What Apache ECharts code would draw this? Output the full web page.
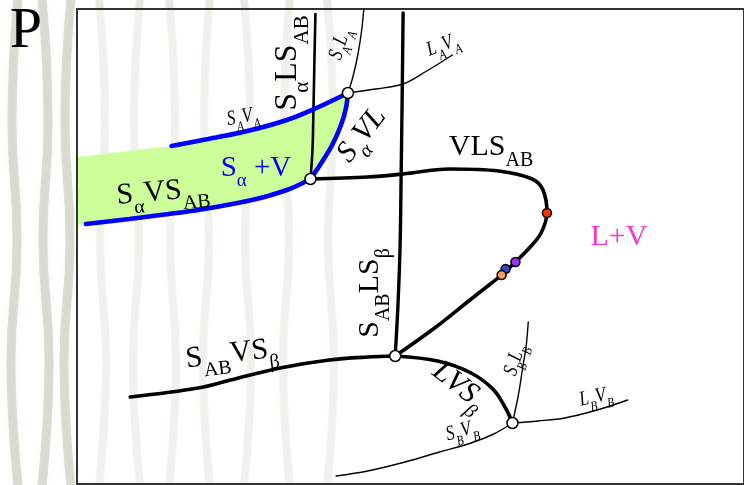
<!DOCTYPE html>
<html>
<head>
<meta charset="utf-8">
<script src="https://cdn.jsdelivr.net/npm/echarts@6/dist/echarts.min.js"></script>
<style>
  html, body { margin: 0; padding: 0; background: #ffffff; }
  #chart { width: 744px; height: 485px; }
</style>
</head>
<body>
<div id="chart"></div>
<script>
// P–T projection of the A–B system: univariant curves and invariant points.
// Units: x grows with T, y is drawn with P increasing upward (axis inverted).

// thick univariant curves
const curveSaLSab = [[319,14],[318,60],[317,110],[316,150],[314,179]];
const curveVLSab  = [[314,179],[372,177],[408,174],[455,169],[505,171],[539,179],[550,190],[554,213],
                     [548,233],[537,247],[522,262],[508,275],[490,289],[472,303],[440,328],[400,356]];
const curveSabLSb = [[408,13],[407,100],[406,175],[405,243],[403,300],[400,356]];
const curveSabVSb = [[131,397],[200,388],[233,380],[283,368],[333,360],[372,357],[400,356]];
const curveLVSb   = [[400,356],[443,361],[477,373],[500,390],[513,410],[519,423]];

// thin curves of the pure components
const curveSALA = [[352,93],[357,77],[362,55],[366,30],[368,10]];
const curveLAVA = [[352,93],[380,89],[408,84],[432,71],[458,55]];
const curveSBLB = [[519,423],[525,395],[529,370],[533,345],[535,322]];
const curveLBVB = [[519,423],[545,421],[572,418],[605,410],[636,400]];
const curveSBVB = [[340,476],[372,471],[410,462],[445,452],[477,443],[500,434],[519,423]];

// S_alpha + V field boundaries
const bandUpper = [[173,146],[210,139],[250,131],[290,120],[320,108],[352,93]];
const bandRight = [[352,93],[350,108],[345,125],[336,145],[325,163],[314,179]];
const bandLower = [[86,224],[130,219],[170,214],[200,210],[240,203],[267,197],[290,190],[300,186],[314,179]];
const bandLeftTop = [78,157];
const bandLeftBottom = [78,225];

// invariant points and marked states on the L+V curve
const invariantPoints = [[352,93],[314,179],[400,356],[519,423]];
const statePoints = [[554,213],[522,262],[512,269],[508,275]];
const stateColors = ['#ff3300','#9933ff','#3344cc','#ff9955'];

const fieldPolygon = [bandLeftTop]
  .concat(bandUpper, bandRight.slice(1), bandLower.slice().reverse().slice(1), [bandLeftBottom]);

const chart = echarts.init(document.getElementById('chart'), null, { renderer: 'canvas' });

function curve(data, width, color, z) {
  return {
    type: 'line', data: data, smooth: 0.35, symbol: 'none', z: z || 3,
    lineStyle: { width: width, color: color, cap: 'round' }, silent: true, animation: false
  };
}

const SERIF = 'Liberation Serif';

function label(text, x, y, rotDeg, size, opts) {
  opts = opts || {};
  const subSize = opts.sub || Math.round(size * 0.66);
  const shift = opts.shift != null ? opts.shift : size * 0.45;
  const fstyle = opts.italic ? 'italic ' : '';
  return {
    type: 'text', x: x, y: y, rotation: rotDeg * Math.PI / 180,
    scaleX: opts.sx || 1, z: 100, silent: true,
    style: {
      text: text, fill: opts.color || '#000',
      font: fstyle + size + 'px "' + SERIF + '"',
      align: 'center', verticalAlign: 'middle',
      textAlign: 'center', textVerticalAlign: 'middle',
      lineHeight: size * 1.1,
      rich: {
        s: { font: fstyle + subSize + 'px "' + SERIF + '"',
             fill: opts.color || '#000', padding: [shift * 2, 0, 0, 0] }
      }
    }
  };
}

// soft vertical streaks of the slide background on the left side
const streakBase = [15, 45, 68, 102, 137, 172, 207, 247, 287, 330];
const lean = [-3, 3, -2, 4, -3];
const streaks = streakBase.map(function (x0, i) {
  const pts = lean.map(function (d, k) {
    return [x0 + (i % 2 ? d : -d), k * 122 - 2];
  });
  const outside = x0 < 77;
  return {
    type: 'polyline', z: -10, silent: true,
    shape: { points: pts, smooth: 0.5 },
    style: { stroke: outside ? 'rgba(160,160,140,0.32)' : 'rgba(160,160,140,0.2)',
             lineWidth: outside ? 9 : 8, fill: null,
             shadowBlur: 4, shadowColor: 'rgba(160,160,140,0.3)' }
  };
});

const small = { italic: true, sx: 0.8, sub: 14 };

const option = {
  animation: false,
  backgroundColor: '#ffffff',
  grid: { left: 77, top: 9, width: 677, height: 475, show: true,
          borderColor: '#333', borderWidth: 2, backgroundColor: 'rgba(255,255,255,0.4)' },
  xAxis: { type: 'value', min: 77, max: 754, show: false },
  yAxis: { type: 'value', min: 9, max: 484, inverse: true, show: false },
  series: [
    {
      type: 'custom', z: 1, silent: true, data: fieldPolygon,
      renderItem: function (params, api) {
        if (params.dataIndex !== 0) return;
        const pts = fieldPolygon.map(function (p) { return api.coord(p); });
        return { type: 'polygon', shape: { points: pts }, style: { fill: '#ccff99' } };
      }
    },
    curve(curveSaLSab, 2.6, '#000'),
    curve(curveVLSab, 3.6, '#000'),
    curve(curveSabLSb, 3.4, '#000'),
    curve(curveSabVSb, 3.6, '#000'),
    curve(curveLVSb, 3.6, '#000'),
    curve(curveSALA, 1.4, '#000'),
    curve(curveLAVA, 1.4, '#000'),
    curve(curveSBLB, 1.4, '#000'),
    curve(curveLBVB, 1.4, '#000'),
    curve(curveSBVB, 1.4, '#000'),
    curve(bandUpper, 4.6, '#0000ff', 4),
    curve(bandRight, 4.6, '#0000ff', 4),
    curve(bandLower, 4.6, '#0000ff', 4),
    {
      type: 'scatter', z: 6, silent: true, data: invariantPoints, symbol: 'circle', symbolSize: 11,
      itemStyle: { color: '#ffffff', opacity: 1, borderColor: '#000', borderWidth: 1.5 }
    },
    {
      type: 'scatter', z: 7, silent: true, symbol: 'circle', symbolSize: 9,
      data: statePoints.map(function (p, i) {
        return { value: p, itemStyle: { color: stateColors[i] } };
      }),
      itemStyle: { opacity: 1, borderColor: '#000', borderWidth: 1.5 }
    }
  ],
  graphic: streaks.concat([
    label('P', 26, 32, 0, 58),
    label('S{s|α}LS{s|AB}', 288, 63, 90, 32),
    label('S{s|α} +V', 256, 168, 0, 29, { color: '#0000ff' }),
    label('S{s|α}VS{s|AB}', 163, 192, 5, 30),
    label('VLS{s|AB}', 491, 147, 0, 30),
    label('L+V', 619, 237, 0, 30, { color: '#ff33cc' }),
    label('S{s|AB}LS{s|β}', 370, 293, 90, 30),
    label('S{s|AB}VS{s|β}', 232, 354, 7, 30),
    label('S{s|α}VL', 362, 135, 52, 30, { italic: true }),
    label('LVS{s|β}', 459, 386, -38, 30, { italic: true }),
    label('S{s|A}L{s|A}', 340, 44, 72, 21, small),
    label('L{s|A}V{s|A}', 443, 45, 20, 21, small),
    label('S{s|A}V{s|A}', 243, 117, 10, 21, small),
    label('S{s|B}L{s|B}', 515, 360, 72, 21, small),
    label('S{s|B}V{s|B}', 462, 431, 15, 21, small),
    label('L{s|B}V{s|B}', 596, 397, 12, 21, small)
  ])
};

chart.setOption(option);
</script>
</body>
</html>
